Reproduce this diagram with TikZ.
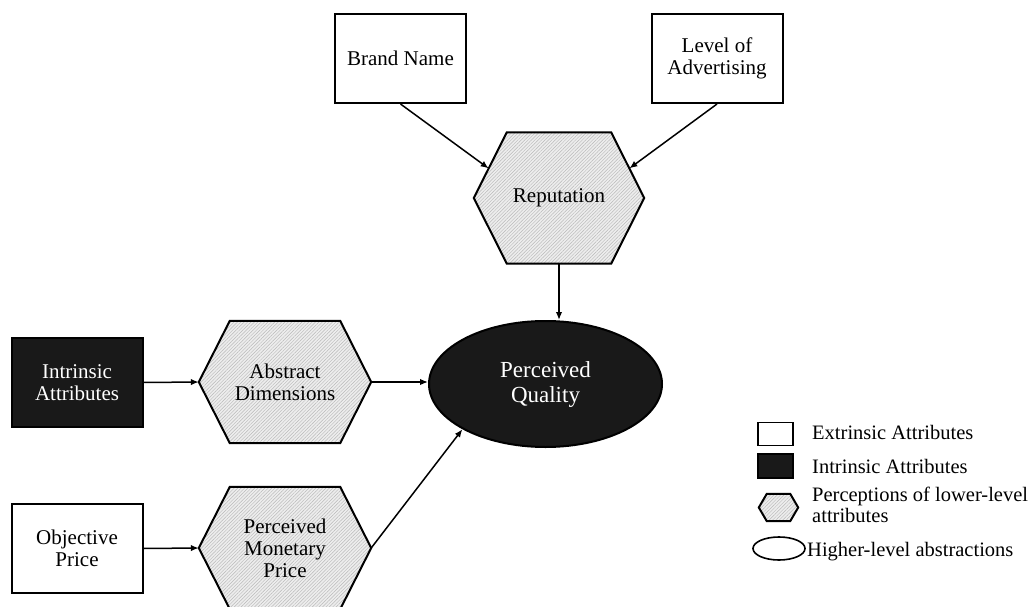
\documentclass[tikz,border=0pt]{standalone}
\usepackage{fontspec}
\setmainfont{Liberation Serif}
\usetikzlibrary{shapes.geometric, arrows.meta, patterns.meta, backgrounds, calc}

% hexagon outline around a (borderless) rectangular node: #1 node name, #2 corner inset
\newcommand\hexoutline[2]{%
  \path[hexfill] (#1.west) -- ([xshift=#2]#1.north west) -- ([xshift=-#2]#1.north east)
    -- (#1.east) -- ([xshift=-#2]#1.south east) -- ([xshift=#2]#1.south west) -- cycle;}

\begin{document}
\begin{tikzpicture}[x=1pt, y=-1pt,
  txt/.style={font=\fontsize{21}{22}\selectfont, align=center, inner sep=0pt},
  extbox/.style={txt, draw, line width=2pt, fill=white, minimum width=131, minimum height=89},
  intbox/.style={extbox, fill=black!90, text=white},
  hexbox/.style={txt},
  hexfill/.style={draw, line width=2pt, line join=miter,
    preaction={fill=gray!14},
    pattern={Lines[angle=45, distance=2.4pt, line width=0.45pt]}, pattern color=gray!55},
  oval/.style={ellipse, draw, line width=2pt, fill=black!90, text=white, inner sep=0pt,
    font=\fontsize{23}{25}\selectfont, align=center},
  arr/.style={line width=1.5pt, -{Latex[length=8pt, width=6.5pt]}},
  legtxt/.style={font=\fontsize{20.5}{21}\selectfont, align=left, inner sep=0pt}
]
\useasboundingbox (0,0) rectangle (1033,607);

% attribute boxes
\node[extbox] (bn) at (400.5,58.5) {Brand Name};
\node[extbox] (lv) at (717,58.5) {Level of\\Advertising};
\node[intbox] (ia) at (77,382.5) {Intrinsic\\Attributes};
\node[extbox] (op) at (77,548.5) {Objective\\Price};

% perceptions of lower-level attributes
\node[hexbox, minimum width=170, minimum height=131] (rep) at (559,198) {Reputation};
\node[hexbox, minimum width=172, minimum height=122] (ad) at (285,382) {Abstract\\Dimensions};
\node[hexbox, minimum width=172, minimum height=122] (pmp) at (285,548) {Perceived\\Monetary\\Price};

% higher-level abstraction
\node[oval, minimum width=233, minimum height=126] (pq) at (545.5,384) {Perceived\\Quality};

% legend
\node[draw, line width=1.6pt, fill=white, minimum width=35, minimum height=23, inner sep=0pt] (lgext) at (775.5,434) {};
\node[draw, line width=1.6pt, fill=black!90, minimum width=35, minimum height=24, inner sep=0pt] (lgint) at (775.5,466) {};
\node[inner sep=0pt, minimum width=39, minimum height=27] (lghex) at (778.5,507.5) {};
\node[ellipse, draw, line width=1.6pt, minimum width=52, minimum height=23, inner sep=0pt] (lgell) at (779,548.5) {};

\node[legtxt, anchor=base west] (lt1) at (812,439) {Extrinsic Attributes};
\node[legtxt, anchor=base west] (lt2) at (812,473) {Intrinsic Attributes};
\node[legtxt, anchor=west] (lt3) at (812,505) {Perceptions of lower-level\\attributes};
\node[legtxt, anchor=base west] (lt4) at (807,556) {Higher-level abstractions};

\begin{scope}[on background layer]
  \fill[white] (0,0) rectangle (1033,607);
  \hexoutline{rep}{33pt}
  \hexoutline{ad}{31pt}
  \hexoutline{pmp}{31pt}
  \hexoutline{lghex}{8pt}
\end{scope}

% connectors
\draw[arr] (bn.south) -- ($(rep.west)!0.45!([xshift=33pt]rep.north west)$);
\draw[arr] (lv.south) -- ($(rep.east)!0.45!([xshift=-33pt]rep.north east)$);
\draw[arr] (rep.south) -- (rep.south |- pq.north);
\draw[arr] (ia.east) -- (ad.west);
\draw[arr] (ad.east) -- (ad.east -| pq.west);
\draw[arr] (op.east) -- (pmp.west);
\draw[arr] (pmp.east) -- (pq.south west);
\end{tikzpicture}
\end{document}
